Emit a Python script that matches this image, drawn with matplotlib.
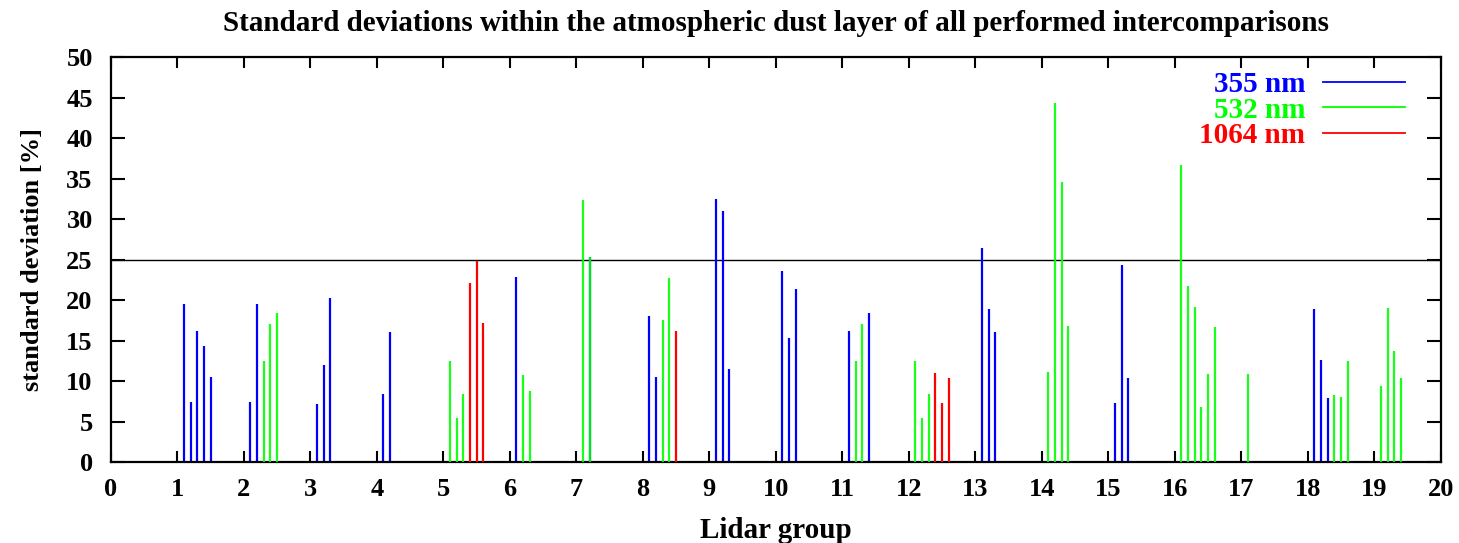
import matplotlib
matplotlib.use("Agg")
import matplotlib.pyplot as plt
from matplotlib.lines import Line2D

# ---- data ----
pos_355 = [1.1, 1.2, 1.3, 1.4, 1.5, 2.1, 2.2, 3.1, 3.2, 3.3, 4.1, 4.2, 6.1, 7.2,
           8.1, 8.2, 9.1, 9.2, 9.3, 10.1, 10.2, 10.3, 11.1, 11.4,
           13.1, 13.2, 13.3, 15.1, 15.2, 15.3, 18.1, 18.2, 18.3]
val_355 = [19.6, 7.45, 16.2, 14.4, 10.5, 7.45, 19.6, 7.16, 12.06, 20.3, 8.4, 16.05, 22.9, 25.3,
           18.1, 10.5, 32.5, 31.0, 11.56, 23.6, 15.35, 21.36, 16.2, 18.4,
           26.4, 18.9, 16.05, 7.28, 24.3, 10.37, 18.9, 12.6, 7.94]

pos_532 = [2.3, 2.4, 2.5, 5.1, 5.2, 5.3, 6.2, 6.3, 7.1, 7.2, 8.3, 8.4,
           11.2, 11.3, 12.1, 12.2, 12.3, 14.1, 14.2, 14.3, 14.4,
           16.1, 16.2, 16.3, 16.4, 16.5, 16.6, 17.1, 18.4, 18.5, 18.6,
           19.1, 19.2, 19.3, 19.4]
val_532 = [12.55, 17.1, 18.4, 12.5, 5.47, 8.44, 10.8, 8.85, 32.4, 25.3, 17.6, 22.7,
           12.5, 17.1, 12.5, 5.47, 8.44, 11.15, 44.3, 34.6, 16.8,
           36.75, 21.8, 19.2, 6.83, 10.86, 16.7, 10.86, 8.27, 8.07, 12.47,
           9.42, 19.1, 13.7, 10.45]

pos_1064 = [5.4, 5.5, 5.6, 8.5, 12.4, 12.5, 12.6]
val_1064 = [22.1, 24.9, 17.24, 16.2, 11.07, 7.28, 10.37]

threshold = 25
labels = ["355 nm", "532 nm", "1064 nm"]
x_ticks = list(range(0, 21))
y_ticks = list(range(0, 51, 5))

title = "Standard deviations within the atmospheric dust layer of all performed intercomparisons"
xlabel = "Lidar group"
ylabel = "standard deviation [%]"

# ---- style ----
plt.rcParams['font.family'] = ['Liberation Serif', 'DejaVu Serif']
plt.rcParams['font.weight'] = 'bold'

W, H = 1459, 543
fig = plt.figure(figsize=(W / 100, H / 100), dpi=100)
ax = fig.add_axes([110.8 / W, 1 - 462.3 / H, (1440.8 - 110.8) / W, (462.3 - 57.3) / H])

colors = ['#0000ff', '#00ff00', '#ff0000']
lw = 1.6
ax.vlines(pos_355, 0, val_355, colors=colors[0], linewidth=lw, zorder=2)
ax.vlines(pos_532, 0, val_532, colors=colors[1], linewidth=lw, zorder=3, alpha=0.9)
ax.vlines(pos_1064, 0, val_1064, colors=colors[2], linewidth=lw, zorder=4)
ax.axhline(threshold, color='black', linewidth=1.0, zorder=1)

ax.set_xlim(0, 20)
ax.set_ylim(0, 50)
ax.set_xticks(x_ticks)
ax.set_yticks(y_ticks)
ax.tick_params(axis='both', direction='in', top=True, right=True, width=1.5,
               labelsize=19)
ax.tick_params(axis='x', length=8, pad=11)
ax.tick_params(axis='y', length=10, pad=13)
for lab in ax.get_xticklabels() + ax.get_yticklabels():
    lab.set_fontweight('bold')
for s in ax.spines.values():
    s.set_linewidth(1.6)

ax.set_title(title, fontsize=21, fontweight='bold', pad=19)
ax.set_xlabel(xlabel, fontsize=21, fontweight='bold', labelpad=12)
ax.set_ylabel(ylabel, fontsize=19, fontweight='bold', labelpad=16)

handles = [Line2D([], [], color=c, linewidth=1.3) for c in colors]
leg = fig.legend(handles, labels, loc='upper right', markerfirst=False, frameon=False,
                 bbox_to_anchor=(1405 / W, 1 - 71 / H), bbox_transform=fig.transFigure,
                 borderaxespad=0, borderpad=0, handlelength=2.8, handletextpad=0.62,
                 labelspacing=-0.05, labelcolor='linecolor',
                 prop={'family': 'Liberation Serif', 'weight': 'bold', 'size': 21})

fig.savefig("out.png", dpi=100)
